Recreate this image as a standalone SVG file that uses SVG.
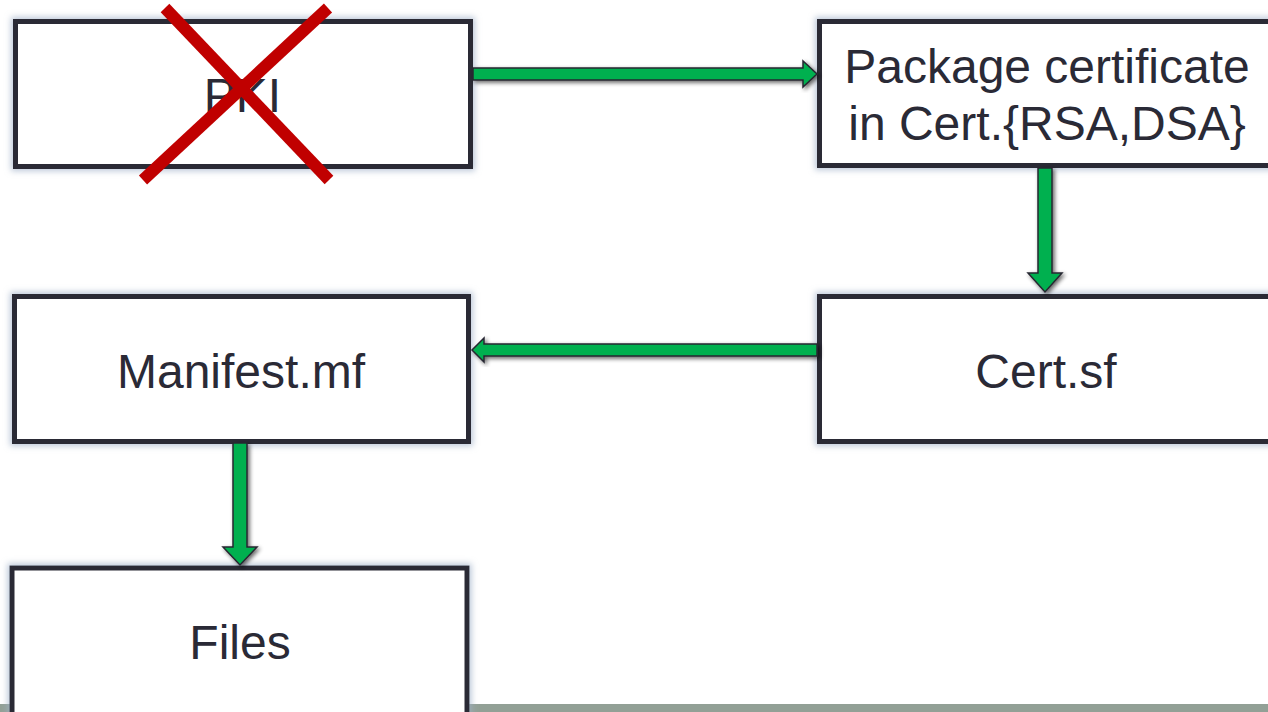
<svg xmlns="http://www.w3.org/2000/svg" width="1268" height="712" viewBox="0 0 1268 712">
  <defs>
    <style>
      .box { fill: #ffffff; stroke: #2a2a35; stroke-width: 5; filter: url(#glow); }
      .lbl { font-family: "Liberation Sans", Arial, sans-serif; font-size: 48px; fill: #2a2a36; text-anchor: middle; }
      .arr { fill: #00b050; stroke: #262630; stroke-width: 1.5; stroke-linejoin: miter; filter: url(#shadow); }
      .cross { stroke: #c00000; stroke-width: 12; stroke-linecap: butt; }
    </style>
    <filter id="glow" x="-10%" y="-20%" width="120%" height="140%">
      <feMorphology in="SourceAlpha" operator="dilate" radius="2" result="d"/>
      <feGaussianBlur in="d" stdDeviation="3" result="b"/>
      <feFlood flood-color="#9fb0c8" flood-opacity="0.7"/>
      <feComposite in2="b" operator="in" result="g"/>
      <feMerge><feMergeNode in="g"/><feMergeNode in="SourceGraphic"/></feMerge>
    </filter>
    <filter id="shadow" x="-20%" y="-20%" width="140%" height="140%">
      <feGaussianBlur in="SourceAlpha" stdDeviation="2"/>
      <feOffset dx="2" dy="2" result="o"/>
      <feComponentTransfer in="o" result="s"><feFuncA type="linear" slope="0.6"/></feComponentTransfer>
      <feMerge><feMergeNode in="s"/><feMergeNode in="SourceGraphic"/></feMerge>
    </filter>
  </defs>
  <rect width="1268" height="712" fill="#ffffff"/>
  <rect x="0" y="704" width="1268" height="8" fill="#92a096"/>

  <g id="node-pki">
    <rect class="box" x="15.5" y="21.5" width="455" height="145"/>
    <text class="lbl" x="242.5" y="112">PKI</text>
    <line class="cross" x1="165" y1="8" x2="329" y2="180"/>
    <line class="cross" x1="328" y1="8" x2="143" y2="180"/>
  </g>

  <g id="node-package">
    <rect class="box" x="819.5" y="21.5" width="455" height="144"/>
    <text class="lbl" x="1047" y="83">Package certificate</text>
    <text class="lbl" x="1047" y="140">in Cert.{RSA,DSA}</text>
  </g>

  <g id="node-certsf">
    <rect class="box" x="819.5" y="296.5" width="455" height="145"/>
    <text class="lbl" x="1046" y="388">Cert.sf</text>
  </g>

  <g id="node-manifest">
    <rect class="box" x="14.5" y="296.5" width="454" height="145"/>
    <text class="lbl" x="241" y="388">Manifest.mf</text>
  </g>

  <g id="node-files">
    <rect class="box" x="12" y="568" width="455" height="160"/>
    <text class="lbl" x="240" y="659">Files</text>
  </g>

  <g id="connectors">
    <polygon class="arr" points="473,68 803,68 803,61 817,74 803,87 803,80 473,80"/>
    <polygon class="arr" points="1038,168 1052,168 1052,273 1062,273 1045,292 1028,273 1038,273"/>
    <polygon class="arr" points="817,344 484,344 484,338 472,350 484,362 484,356 817,356"/>
    <polygon class="arr" points="233,443 247,443 247,547 257,547 240,565 223,547 233,547"/>
  </g>
</svg>
